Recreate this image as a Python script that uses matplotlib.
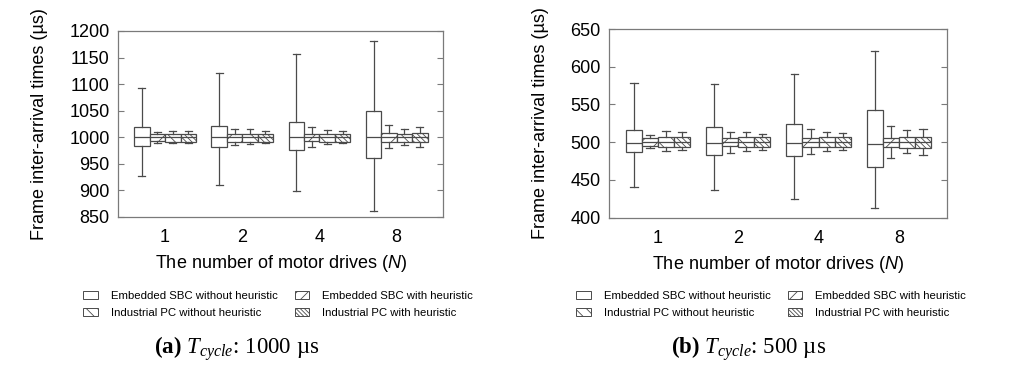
import matplotlib
matplotlib.use("Agg")
import matplotlib.pyplot as plt
from matplotlib.patches import Patch

plt.rcParams['font.family'] = ['Liberation Sans', 'DejaVu Sans']
plt.rcParams['mathtext.fontset'] = 'custom'
plt.rcParams['mathtext.rm'] = 'Liberation Serif'
plt.rcParams['mathtext.it'] = 'Liberation Serif:italic'
plt.rcParams['mathtext.bf'] = 'Liberation Serif:bold'
plt.rcParams['mathtext.sf'] = 'Liberation Sans:italic'
plt.rcParams['hatch.linewidth'] = 0.6

# ---------------- data ----------------
groups = ["1", "2", "4", "8"]
series = ["Embedded SBC without heuristic", "Industrial PC without heuristic",
          "Embedded SBC with heuristic", "Industrial PC with heuristic"]

# (whisker low, Q1, median, Q3, whisker high) per N, panel (a) 1000 us
a_sbc_no = [(928, 984, 1000, 1019, 1093), (910, 981, 1000, 1022, 1121),
            (899, 976, 1000, 1029, 1156), (861, 961, 1000, 1049, 1181)]
a_sbc_h = [(990, 993, 1000, 1006, 1010), (986, 992, 1000, 1006, 1015),
           (982, 993, 1000, 1006, 1020), (979, 992, 1000, 1009, 1023)]
a_ipc_no = [(989, 992, 1000, 1007, 1012), (987, 992, 1000, 1007, 1015),
            (987, 992, 1000, 1007, 1014), (985, 992, 1000, 1007, 1015)]
a_ipc_h = [(989, 992, 1000, 1007, 1012), (989, 992, 1000, 1007, 1011),
           (989, 992, 1000, 1007, 1012), (981, 992, 1000, 1009, 1019)]

# panel (b) 500 us
b_sbc_no = [(440, 487, 499, 516, 579), (436, 483, 499, 520, 577),
            (425, 481, 499, 524, 590), (413, 467, 497, 542, 621)]
b_sbc_h = [(492, 495, 500, 505, 509), (485, 495, 500, 505, 514),
           (484, 494, 500, 506, 518), (479, 493, 500, 506, 521)]
b_ipc_no = [(488, 494, 500, 507, 515), (488, 494, 500, 507, 513),
            (488, 494, 500, 507, 514), (486, 492, 500, 507, 516)]
b_ipc_h = [(489, 494, 500, 507, 513), (489, 494, 500, 507, 511),
           (489, 494, 500, 507, 512), (483, 492, 500, 507, 517)]

ylim_a = (850, 1200)
yticks_a = [850, 900, 950, 1000, 1050, 1100, 1150, 1200]
ylim_b = (400, 650)
yticks_b = [400, 450, 500, 550, 600, 650]

# ---------------- style ----------------
EDGE = '#4a4a4a'
SPINE = '#7a7a7a'
hatches = [None, '//', '\\\\', '\\\\\\\\\\\\']
offsets = [-0.3, -0.1, 0.1, 0.3]
BW = 0.2
FS = 13

fig = plt.figure(figsize=(10.24, 3.66), dpi=100)
W, H = 1024, 366
ax_a = fig.add_axes([118 / W, 1 - 217 / H, 325 / W, 186 / H])
ax_b = fig.add_axes([609 / W, 1 - 217.5 / H, 338 / W, 188.5 / H])


def draw(ax, data_list, ylim, yticks):
    for data, hatch, off in zip(data_list, hatches, offsets):
        stats = []
        for (lo, q1, med, q3, hi) in data:
            stats.append(dict(whislo=lo, q1=q1, med=med, q3=q3, whishi=hi, fliers=[]))
        pos = [i + 1 + off for i in range(len(data))]
        bp = ax.bxp(stats, positions=pos, widths=BW, capwidths=0.09,
                    patch_artist=True, showfliers=False, manage_ticks=False,
                    boxprops=dict(facecolor='white', edgecolor=EDGE, linewidth=0.9),
                    medianprops=dict(color=EDGE, linewidth=0.9),
                    whiskerprops=dict(color=EDGE, linewidth=0.9),
                    capprops=dict(color=EDGE, linewidth=0.9))
        for b in bp['boxes']:
            if hatch:
                b.set_hatch(hatch)
    ax.set_xlim(0.39, 4.6)
    ax.set_ylim(*ylim)
    ax.set_yticks(yticks)
    ax.set_xticks([1, 2, 3, 4])
    ax.set_xticklabels(groups)
    ax.tick_params(axis='y', direction='in', length=4, width=0.8, color=SPINE,
                   right=True, labelsize=FS, pad=6)
    ax.tick_params(axis='x', length=0, labelsize=FS, pad=9)
    for sp in ax.spines.values():
        sp.set_color(SPINE)
        sp.set_linewidth(0.9)
    ax.set_ylabel('Frame inter-arrival times (µs)', fontsize=FS, labelpad=15)
    ax.set_xlabel('The number of motor drives ($\\mathsf{N}$)', fontsize=FS, labelpad=5)


draw(ax_a, [a_sbc_no, a_sbc_h, a_ipc_no, a_ipc_h], ylim_a, yticks_a)
draw(ax_b, [b_sbc_no, b_sbc_h, b_ipc_no, b_ipc_h], ylim_b, yticks_b)

# legends (column-wise order)
leg_hatch = {series[0]: None, series[1]: '\\\\\\', series[2]: '///', series[3]: '\\\\\\\\\\\\\\\\'}
handles = [Patch(facecolor='white', edgecolor=EDGE, linewidth=0.7, hatch=leg_hatch[s], label=s)
           for s in series]
for cx in (278 / W, 771 / W):
    fig.legend(handles=handles, loc='center', bbox_to_anchor=(cx, 1 - 304.5 / H), ncol=2,
               frameon=False, fontsize=8.2, handlelength=1.3, handleheight=0.7,
               handletextpad=1.1, columnspacing=1.5, labelspacing=0.62)

# captions
cap_font = dict(family=['Liberation Serif', 'DejaVu Serif'], fontsize=16.5, ha='center', va='center')
fig.text(237 / W, 1 - 349 / H, r'$\mathbf{(a)}$ $T_{cycle}$: 1000 µs', **cap_font)
fig.text(749 / W, 1 - 349 / H, r'$\mathbf{(b)}$ $T_{cycle}$: 500 µs', **cap_font)

fig.savefig('out.png', dpi=100)
